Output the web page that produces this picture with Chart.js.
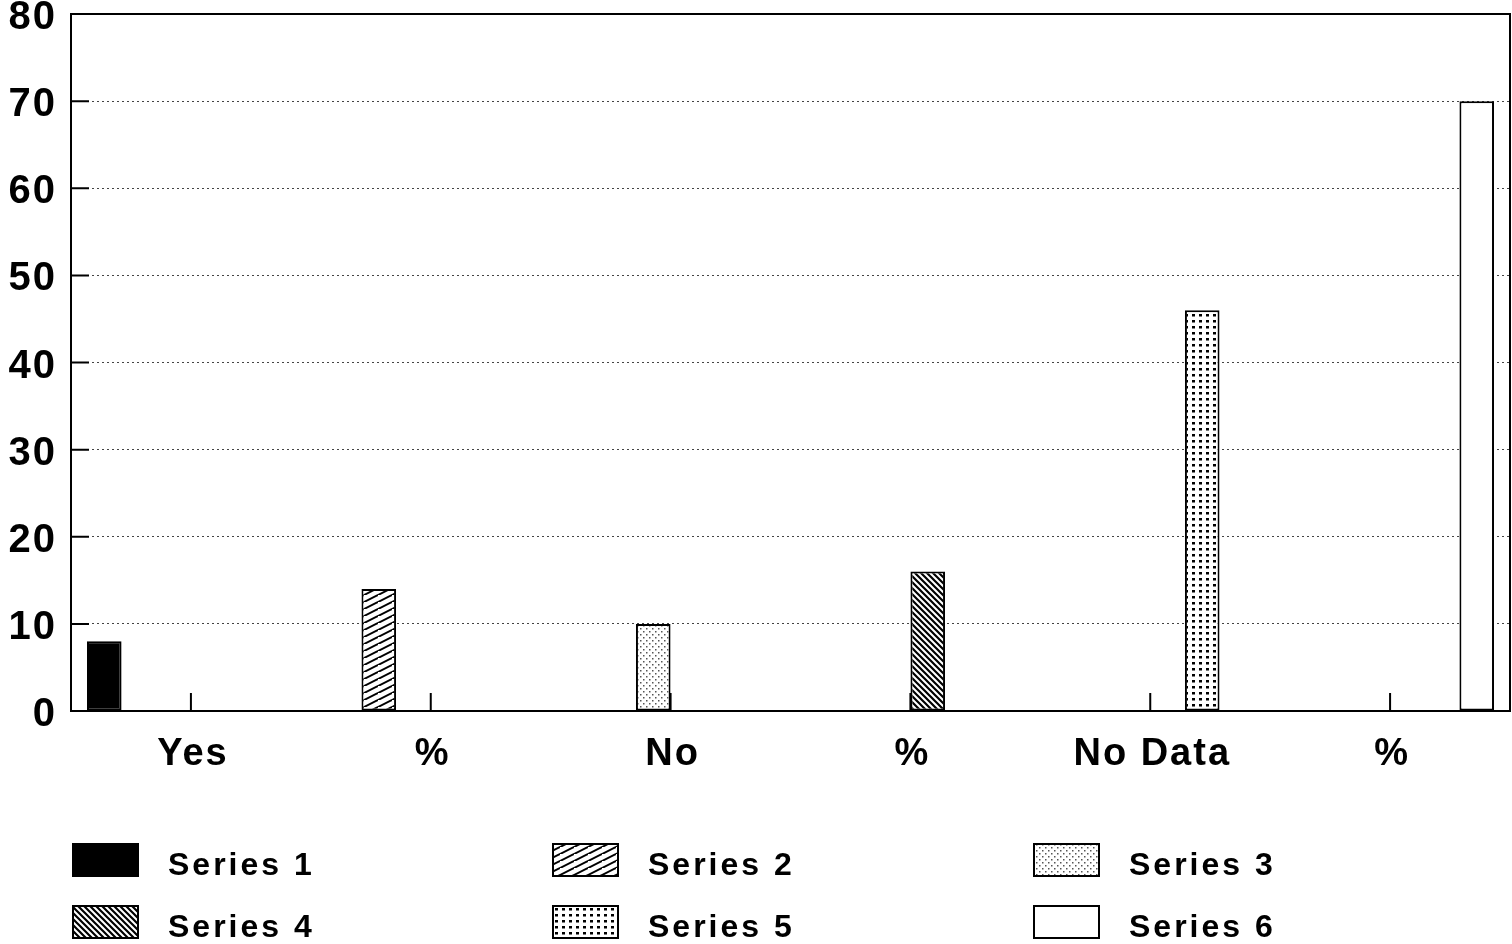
<!DOCTYPE html>
<html>
<head>
<meta charset="utf-8">
<title>Series chart</title>
<script src="https://cdn.jsdelivr.net/npm/chart.js@4.4.1/dist/chart.umd.min.js"></script>
<style>
  html, body { margin: 0; padding: 0; background: #fff; }
  #wrap { width: 1512px; height: 944px; position: relative; }
</style>
</head>
<body>
<div id="wrap"><canvas id="seriesChart"></canvas></div>
<script>
const categories = ['Yes', '%', 'No', '%', 'No Data', '%'];
const seriesNames = ['Series 1', 'Series 2', 'Series 3', 'Series 4', 'Series 5', 'Series 6'];
const seriesValues = [8, 14, 10, 16, 46, 70];
const seriesFills = ['solid', 'slash', 'stipple', 'backslash', 'dots', 'white'];
const yMin = 0;
const yMax = 80;
const yStep = 10;

const FONT = "'Liberation Sans', Arial, Helvetica, sans-serif";

function makePattern(kind) {
  const tile = document.createElement('canvas');
  const t = tile.getContext('2d');
  if (kind === 'solid') return '#000';
  if (kind === 'white') return '#fff';
  if (kind === 'slash') {
    tile.width = 14; tile.height = 7;
    t.fillStyle = '#fff'; t.fillRect(0, 0, 14, 7);
    t.strokeStyle = '#000'; t.lineWidth = 2;
    t.beginPath();
    t.moveTo(-14, 14); t.lineTo(14, 0);
    t.moveTo(0, 7); t.lineTo(14, 0);
    t.moveTo(0, 14); t.lineTo(28, 0);
    t.stroke();
  } else if (kind === 'backslash') {
    tile.width = 6; tile.height = 6;
    t.fillStyle = '#fff'; t.fillRect(0, 0, 6, 6);
    t.strokeStyle = '#000'; t.lineWidth = 2.2;
    t.beginPath();
    t.moveTo(-6, -6); t.lineTo(12, 12);
    t.moveTo(-6, 0); t.lineTo(6, 12);
    t.moveTo(0, -6); t.lineTo(12, 6);
    t.stroke();
  } else if (kind === 'stipple') {
    tile.width = 6; tile.height = 6;
    t.fillStyle = '#fff'; t.fillRect(0, 0, 6, 6);
    t.fillStyle = '#555';
    t.fillRect(1, 1, 1.5, 1.5);
    t.fillRect(4, 4, 1.5, 1.5);
  } else if (kind === 'dots') {
    tile.width = 7; tile.height = 6;
    t.fillStyle = '#fff'; t.fillRect(0, 0, 7, 6);
    t.fillStyle = '#000';
    t.fillRect(2, 2, 3, 2.5);
  }
  return t.createPattern(tile, 'repeat');
}

const fills = seriesFills.map(makePattern);

const datasets = seriesNames.map((name, i) => ({
  label: name,
  data: [seriesValues[i]],
  xAxisID: 'xb',
  backgroundColor: fills[i],
  borderColor: '#000',
  borderWidth: 2,
  borderSkipped: false,
  categoryPercentage: 1.1445,
  barPercentage: 0.126
}));

// frame, inner tick marks and the legend block
const framePlugin = {
  id: 'framePlugin',
  beforeDraw(chart) {
    chart.ctx.letterSpacing = '2px';
  },
  afterDraw(chart) {
    const ctx = chart.ctx;
    const area = chart.chartArea;
    const yScale = chart.scales.y;
    const xScale = chart.scales.x;
    ctx.save();
    ctx.strokeStyle = '#000';
    ctx.lineWidth = 2;
    ctx.beginPath();
    ctx.moveTo(area.left, area.bottom);
    ctx.lineTo(area.left, area.top);
    ctx.lineTo(area.right, area.top);
    ctx.lineTo(area.right, area.bottom);
    ctx.lineTo(area.left, area.bottom);
    ctx.stroke();

    ctx.beginPath();
    yScale.ticks.forEach(tk => {
      const y = yScale.getPixelForValue(tk.value);
      ctx.moveTo(area.left, y);
      ctx.lineTo(area.left + 18, y);
    });
    categories.forEach((c, i) => {
      const x = xScale.getPixelForValue(i);
      ctx.moveTo(x, area.bottom);
      ctx.lineTo(x, area.bottom - 18);
    });
    ctx.stroke();

    // legend: 3 columns, 2 rows
    const colX = [73, 553, 1034];
    const rowY = [844, 906];
    ctx.font = 'bold 32px ' + FONT;
    ctx.letterSpacing = '3px';
    ctx.textBaseline = 'middle';
    ctx.textAlign = 'left';
    seriesNames.forEach((name, i) => {
      const x = colX[i % 3];
      const y = rowY[Math.floor(i / 3)];
      ctx.fillStyle = fills[i];
      ctx.fillRect(x, y, 65, 32);
      ctx.lineWidth = 2;
      ctx.strokeStyle = '#000';
      ctx.strokeRect(x, y, 65, 32);
      ctx.fillStyle = '#000';
      ctx.fillText(name, x + 95, y + 22);
    });
    ctx.restore();
  }
};

const ctx = document.getElementById('seriesChart').getContext('2d');
const seriesChart = new Chart(ctx, {
  type: 'bar',
  data: {
    labels: [''],
    datasets: datasets
  },
  options: {
    responsive: true,
    maintainAspectRatio: false,
    animation: false,
    layout: { padding: { top: 14, right: 2, left: 0, bottom: 0 } },
    plugins: {
      legend: { display: false },
      tooltip: { enabled: false }
    },
    scales: {
      xb: {
        type: 'category',
        display: false,
        offset: true,
        grid: { display: false }
      },
      x: {
        type: 'category',
        labels: categories,
        position: 'bottom',
        offset: true,
        grid: { display: false, drawTicks: false },
        border: { display: true, color: '#000', width: 2 },
        ticks: {
          color: '#000',
          padding: 21,
          labelOffset: 2,
          maxRotation: 0,
          autoSkip: false,
          font: { family: FONT, size: 38, weight: 'bold' }
        },
        afterFit(scale) {
          scale.height = 233;
          scale.paddingLeft = 0;
          scale.paddingRight = 0;
        }
      },
      y: {
        min: yMin,
        max: yMax,
        grid: { color: '#444', lineWidth: 1, drawTicks: false },
        border: { display: true, color: '#000', width: 2, dash: [2, 3] },
        ticks: {
          stepSize: yStep,
          color: '#000',
          padding: 14,
          labelOffset: 4,
          font: { family: FONT, size: 40, weight: 'bold' }
        },
        afterFit(scale) {
          scale.width = 71;
          scale.paddingTop = 0;
          scale.paddingBottom = 0;
        }
      }
    }
  },
  plugins: [framePlugin]
});
</script>
</body>
</html>
